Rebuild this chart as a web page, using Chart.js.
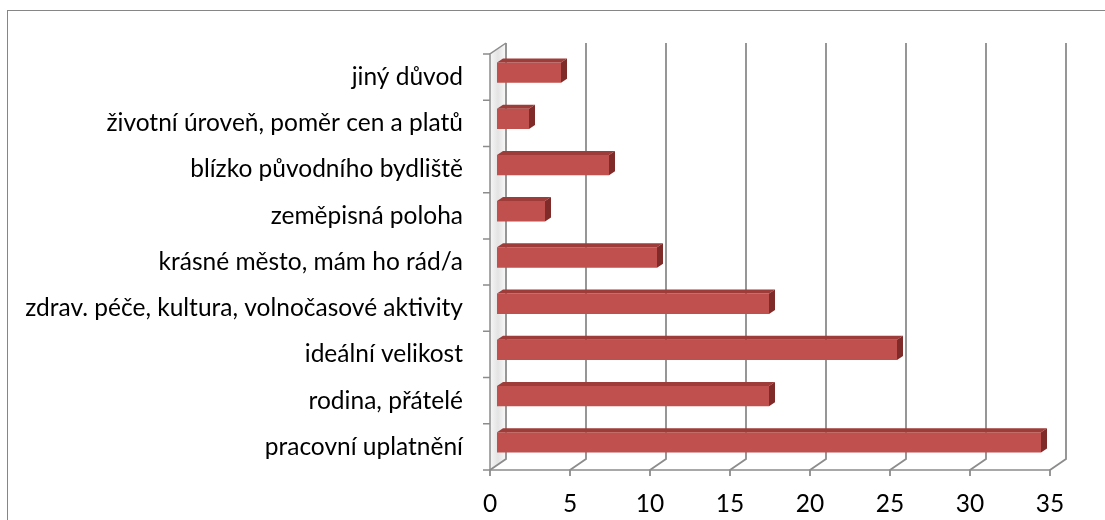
<!DOCTYPE html>
<html><head><meta charset="utf-8">
<script src="https://cdn.jsdelivr.net/npm/chart.js@4/dist/chart.umd.min.js"></script>
<style>html,body{margin:0;padding:0;background:#fff;overflow:hidden}</style>
</head><body>
<canvas id="c" width="1105" height="520"></canvas>
<script>
const categories = [
  'jiný důvod',
  'životní úroveň, poměr cen a platů',
  'blízko původního bydliště',
  'zeměpisná poloha',
  'krásné město, mám ho rád/a',
  'zdrav. péče, kultura, volnočasové aktivity',
  'ideální velikost',
  'rodina, přátelé',
  'pracovní uplatnění'
];
const values = [4, 2, 7, 3, 10, 17, 25, 17, 34];
const xTickValues = [0, 5, 10, 15, 20, 25, 30, 35];

const FONT = "Lato, 'Open Sans', sans-serif";
const DX = 16, DY = -11;          // depth of the 3D box
const SHIFT_X = 7, SHIFT_Y = -4.5; // bars sit mid-depth
const BDX = 6, BDY = -4;           // bar depth
const GRID = '#8c8c8c';

const frame3d = {
  id: 'frame3d',
  beforeDraw(chart) {
    const ctx = chart.ctx;
    ctx.save();
    ctx.fillStyle = '#fff';
    ctx.fillRect(0, 0, chart.width, chart.height);
    ctx.strokeStyle = '#868686';
    ctx.lineWidth = 1;
    ctx.strokeRect(7.5, 10.5, 1200, 600);
    ctx.restore();
  },
  beforeDatasetsDraw(chart) {
    const ctx = chart.ctx, a = chart.chartArea, xs = chart.scales.x;
    const x0 = xs.getPixelForValue(0);
    ctx.save();
    const g = ctx.createLinearGradient(x0, 0, x0 + DX, 0);
    g.addColorStop(0, '#f7f7f7');
    g.addColorStop(0.5, '#e3e3e3');
    g.addColorStop(1, '#fafafa');
    ctx.fillStyle = g;
    ctx.beginPath();
    ctx.moveTo(x0, a.top); ctx.lineTo(x0 + DX, a.top + DY);
    ctx.lineTo(x0 + DX, a.bottom + DY); ctx.lineTo(x0, a.bottom);
    ctx.closePath(); ctx.fill();

    ctx.strokeStyle = GRID;
    ctx.lineWidth = 1.8;
    xTickValues.forEach(v => {
      const px = xs.getPixelForValue(v);
      ctx.beginPath();
      ctx.moveTo(px + DX, a.top + DY);
      ctx.lineTo(px + DX, a.bottom + DY);
      ctx.lineTo(px, a.bottom);
      ctx.lineTo(px, a.bottom + 6);
      ctx.stroke();
    });
    ctx.lineWidth = 1.5;
    ctx.beginPath();
    ctx.moveTo(x0, a.bottom); ctx.lineTo(xs.getPixelForValue(35), a.bottom);
    ctx.moveTo(x0 + DX, a.top + DY); ctx.lineTo(x0, a.top); ctx.lineTo(x0, a.bottom);
    ctx.stroke();
    const n = categories.length;
    ctx.beginPath();
    for (let k = 0; k <= n; k++) {
      const y = a.top + k * (a.bottom - a.top) / n;
      ctx.moveTo(x0 - 7, y); ctx.lineTo(x0, y);
    }
    ctx.stroke();
    ctx.restore();
  },
  beforeDatasetDraw(chart) {
    chart.ctx.save();
    chart.ctx.translate(SHIFT_X, SHIFT_Y);
  },
  afterDatasetDraw(chart, args) {
    const ctx = chart.ctx;
    args.meta.data.forEach(b => {
      const p = b.getProps(['x', 'y', 'base', 'height'], true);
      const l = Math.min(p.base, p.x), r = Math.max(p.base, p.x);
      const t = p.y - p.height / 2, btm = p.y + p.height / 2;
      ctx.fillStyle = '#9e3c39';
      ctx.beginPath();
      ctx.moveTo(l, t); ctx.lineTo(l + BDX, t + BDY); ctx.lineTo(r + BDX, t + BDY); ctx.lineTo(r, t);
      ctx.closePath(); ctx.fill();
      ctx.fillStyle = '#7f2b29';
      ctx.beginPath();
      ctx.moveTo(r, t); ctx.lineTo(r + BDX, t + BDY); ctx.lineTo(r + BDX, btm + BDY); ctx.lineTo(r, btm);
      ctx.closePath(); ctx.fill();
    });
    ctx.restore();
  }
};

new Chart(document.getElementById('c'), {
  type: 'bar',
  data: {
    labels: categories,
    datasets: [{
      data: values,
      backgroundColor: '#c0504d',
      borderWidth: 0,
      barPercentage: 0.44,
      categoryPercentage: 1
    }]
  },
  options: {
    indexAxis: 'y',
    responsive: false,
    animation: false,
    devicePixelRatio: 1,
    layout: { padding: { top: 54, right: 55, left: 0, bottom: 0 } },
    plugins: { legend: { display: false }, tooltip: { enabled: false } },
    scales: {
      x: {
        min: 0, max: 35,
        afterFit(s) { s.height = 50; },
        afterBuildTicks(s) { s.ticks = xTickValues.map(v => ({ value: v })); },
        ticks: { font: { family: FONT, size: 24.5 }, color: '#000', padding: 11, maxRotation: 0 },
        grid: { display: false },
        border: { display: false }
      },
      y: {
        afterFit(s) { s.width = 490; },
        ticks: { font: { family: FONT, size: 24.5 }, color: '#000', padding: 19 },
        grid: { display: false },
        border: { display: false }
      }
    }
  },
  plugins: [frame3d]
});
</script>
</body></html>
